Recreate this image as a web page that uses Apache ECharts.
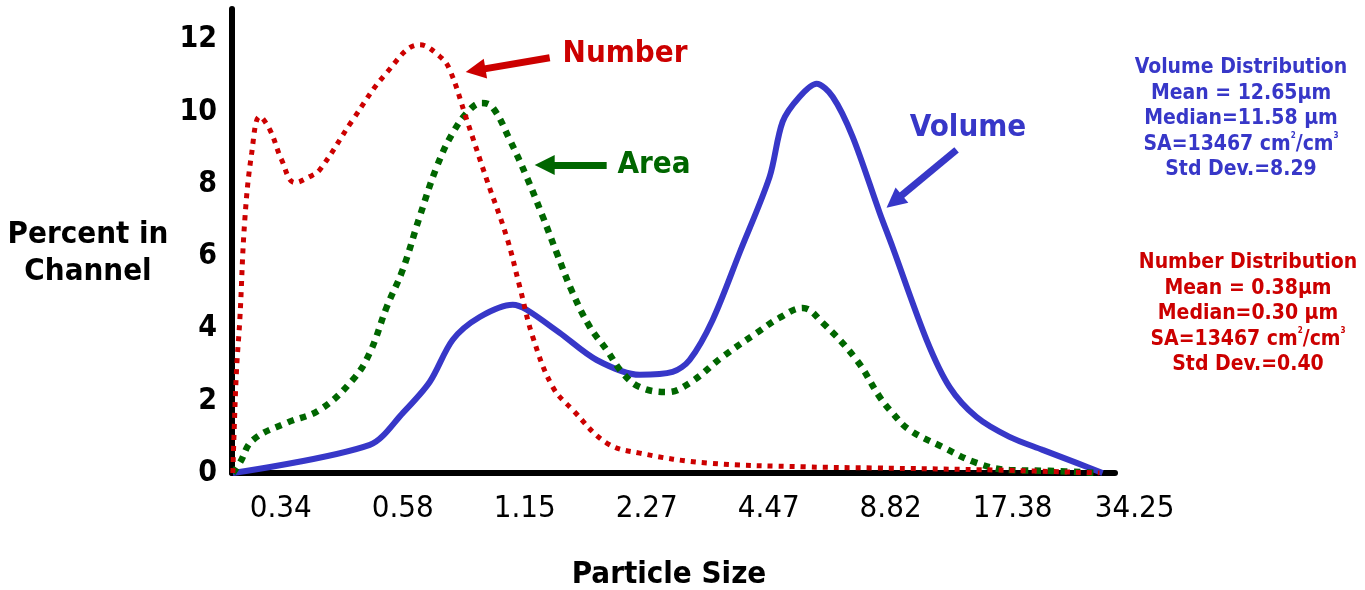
<!DOCTYPE html>
<html><head><meta charset="utf-8">
<script src="https://cdn.jsdelivr.net/npm/echarts@6/dist/echarts.min.js"></script>
<style>html,body{margin:0;padding:0;background:#fff}#c{width:1365px;height:590px}</style>
</head><body><div id="c"></div><script>
// Tick labels (particle size, µm) placed at channel index 0..7
const sizeLabels = ['0.34','0.58','1.15','2.27','4.47','8.82','17.38','34.25'];
const sizeIdx = [0,1,2,3,4,5,6,7];

// Curves as [channel position, percent in channel]
const numberPts = [[-0.393,0],[-0.385,0.91],[-0.363,2.85],[-0.336,4.24],[-0.295,7.01],[-0.238,8.87],[-0.172,9.87],[-0.09,9.51],[0.006,8.68],[0.115,8.04],[0.238,8.21],[0.32,8.40],[0.59,9.78],[0.869,11.09],[1.139,11.86],[1.303,11.54],[1.385,11.17],[1.525,9.78],[1.689,8.12],[1.852,6.54],[1.959,5.16],[2.066,3.77],[2.23,2.38],[2.393,1.75],[2.672,0.83],[2.943,0.55],[3.492,0.28],[4.311,0.17],[4.852,0.14],[5.893,0.08],[6.713,0]];
const areaPts = [[-0.393,0],[-0.336,0.28],[-0.23,0.91],[0.049,1.39],[0.32,1.75],[0.59,2.58],[0.73,3.33],[0.869,4.60],[1.0,5.63],[1.139,7.10],[1.279,8.48],[1.41,9.42],[1.549,10.06],[1.648,10.25],[1.738,10.12],[1.877,9.23],[2.016,8.20],[2.148,7.10],[2.262,6.10],[2.393,4.99],[2.533,4.05],[2.672,3.41],[2.803,2.77],[2.943,2.38],[3.164,2.24],[3.352,2.49],[3.623,3.22],[3.902,3.88],[4.09,4.30],[4.279,4.57],[4.443,4.16],[4.721,3.13],[4.91,2.11],[5.016,1.66],[5.156,1.19],[5.426,0.72],[5.705,0.28],[5.975,0.08],[6.30,0.06],[6.713,0]];
const volumePts = [[-0.393,0],[0.73,0.78],[1.0,1.66],[1.221,2.52],[1.41,3.69],[1.631,4.32],[1.902,4.66],[2.016,4.52],[2.287,3.88],[2.59,3.13],[2.943,2.72],[3.213,2.80],[3.352,3.13],[3.541,4.24],[3.762,6.10],[4.008,8.20],[4.115,9.73],[4.254,10.42],[4.393,10.78],[4.525,10.42],[4.689,9.31],[4.91,7.21],[5.016,6.26],[5.295,3.69],[5.484,2.38],[5.705,1.55],[5.975,1.00],[6.246,0.64],[6.525,0.28],[6.738,0]];

// Annotation arrows [tail, head] in data coordinates
const numberArrow = [[2.205,11.50],[1.597,11.15]];
const areaArrow = [[2.672,8.53],[2.164,8.53]];
const volumeArrow = [[5.541,8.95],[5.030,7.52]];

const volumeStats = ['Volume Distribution','Mean = 12.65μm','Median=11.58 μm','SA=13467 cm{s|2}/cm{s|3}','Std Dev.=8.29'];
const numberStats = ['Number Distribution','Mean = 0.38μm','Median=0.30 μm','SA=13467 cm{s|2}/cm{s|3}','Std Dev.=0.40'];

const FF = '"DejaVu Sans Condensed","DejaVu Sans",sans-serif';
const RED = '#cc0000', GREEN = '#006600', BLUE = '#3737c8';

function arrow(pts, color){
  return { silent:true, symbol:['none','triangle'], symbolSize:[20,20],
    lineStyle:{color:color, width:7, type:'solid'}, label:{show:false},
    emphasis:{disabled:true},
    data:[[{coord:pts[0]},{coord:pts[1]}]] };
}
function txt(x,y,text,color,size,lh){
  return {type:'text', x:x, y:y, silent:true, style:{text:text, fill:color, fontFamily:FF, fontWeight:'bold', fontSize:size, lineHeight:lh||size, align:'center', verticalAlign:'middle'}};
}
function stats(x,y,lines,color){
  return {type:'text', x:x, y:y, silent:true, style:{text:lines.join('\n'), fill:color, fontFamily:FF, fontWeight:'bold', fontSize:21, lineHeight:25.5, align:'center', verticalAlign:'middle',
    rich:{s:{fontSize:8, fontFamily:FF, fontWeight:'bold', fill:color, verticalAlign:'top', lineHeight:25.5, padding:[0,0,8,0]}}}};
}

const chart = echarts.init(document.getElementById('c'));
chart.setOption({
  animation:false,
  grid:[{left:232, top:9, width:883, height:464},{left:232, top:9, width:927, height:464}],
  xAxis:[
    {type:'value', gridIndex:0, min:-0.4, max:6.84, axisLine:{show:true, onZero:false, lineStyle:{color:'#000', width:6}}, axisTick:{show:false}, axisLabel:{show:false}, splitLine:{show:false}},
    {type:'value', gridIndex:1, min:-0.4, max:7.2, axisLine:{show:false}, axisTick:{show:false}, splitLine:{show:false},
     axisLabel:{customValues:sizeIdx, formatter:function(v){return sizeLabels[Math.round(v)];}, fontFamily:FF, fontSize:31, color:'#000', margin:20}}
  ],
  yAxis:[
    {type:'value', gridIndex:0, min:0, max:12.85, interval:2, axisLine:{show:true, onZero:false, lineStyle:{color:'#000', width:6}}, axisTick:{show:false}, splitLine:{show:false},
     axisLabel:{showMaxLabel:false, fontFamily:FF, fontWeight:'bold', fontSize:30, color:'#000', margin:15}},
    {type:'value', gridIndex:1, min:0, max:12.85, show:false}
  ],
  series:[
    {name:'Volume', type:'line', xAxisIndex:0, yAxisIndex:0, data:volumePts, showSymbol:false, smooth:0.3,
     lineStyle:{color:BLUE, width:6}, markLine:arrow(volumeArrow, BLUE)},
    {name:'Area', type:'line', xAxisIndex:0, yAxisIndex:0, data:areaPts, showSymbol:false, smooth:0.4,
     lineStyle:{color:GREEN, width:6.5, type:[6.5,6.5], cap:'butt'}, markLine:arrow(areaArrow, GREEN)},
    {name:'Number', type:'line', xAxisIndex:0, yAxisIndex:0, data:numberPts, showSymbol:false, smooth:0.4,
     lineStyle:{color:RED, width:5, type:[5,6], cap:'butt'}, markLine:arrow(numberArrow, RED)}
  ],
  graphic:[
    txt(625,54,'Number',RED,31),
    txt(654,165,'Area',GREEN,31),
    txt(968,128,'Volume',BLUE,31),
    txt(88,253,'Percent in\nChannel','#000',31,37),
    txt(669,575,'Particle Size','#000',31),
    stats(1241,119,volumeStats,BLUE),
    stats(1248,314,numberStats,RED)
  ]
});
</script></body></html>
